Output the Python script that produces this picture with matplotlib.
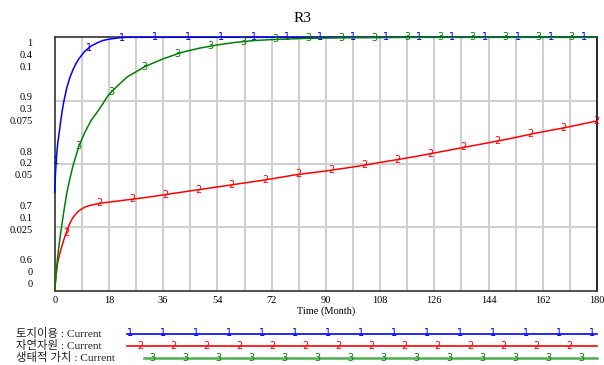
import numpy as np
import matplotlib
matplotlib.use("Agg")
import matplotlib.pyplot as plt
import matplotlib.transforms as mtransforms

plt.rcParams['font.family'] = ['Liberation Serif', 'Noto Sans CJK KR', 'DejaVu Sans']

# ---------------- data ----------------
title = "R3"
x_label = "Time (Month)"
x_ticks = [0, 18, 36, 54, 72, 90, 108, 126, 144, 162, 180]

series_names = ["토지이용", "자연자원", "생태적 가치"]
series_colors = ["#0000ff", "#ff0000", "#008000"]
legend_colors = ["#0000ff", "#ff0000", "#4caf50"]
series_ranges = [(0.6, 1.0), (0.0, 0.4), (0.0, 0.1)]

# 토지이용 (scale 0.6 - 1)
t_land = [0, 0.25, 0.5, 0.75, 1, 1.5, 2, 2.5, 3, 4, 5, 6, 7, 8, 9, 10, 12, 14, 16, 18,
          21, 24, 30, 60, 90, 120, 150, 180]
v_land = [0.755, 0.784, 0.804, 0.820, 0.832, 0.850, 0.868, 0.884, 0.898, 0.920, 0.936,
          0.948, 0.958, 0.966, 0.972, 0.978, 0.986, 0.991, 0.995, 0.997, 0.999, 1.0,
          1.0, 1.0, 1.0, 1.0, 1.0, 1.0]

# 자연자원 (scale 0 - 0.4)
t_nat = [0, 0.5, 1, 1.5, 2, 3, 4, 5, 6, 7, 8, 10, 12, 15, 20, 25, 30, 40, 50, 60, 70, 80,
         90, 100, 110, 120, 130, 140, 150, 160, 170, 180]
v_nat = [0.0, 0.026, 0.044, 0.055, 0.064, 0.080, 0.094, 0.106, 0.115, 0.121, 0.126,
         0.132, 0.135, 0.138, 0.141, 0.144, 0.147, 0.154, 0.161, 0.168, 0.175, 0.183,
         0.189, 0.196, 0.204, 0.212, 0.221, 0.230, 0.239, 0.249, 0.258, 0.268]

# 생태적 가치 (scale 0 - 0.1)
t_eco = [0, 0.5, 1, 1.5, 2, 3, 4, 5, 6, 7, 8, 10, 12, 15, 18, 21, 24, 30, 36, 42, 48, 54,
         60, 66, 72, 84, 96, 108, 120, 150, 180]
v_eco = [0.0, 0.0075, 0.0135, 0.0185, 0.023, 0.031, 0.0385, 0.044, 0.049, 0.053, 0.057,
         0.0625, 0.067, 0.072, 0.0775, 0.081, 0.0843, 0.0885, 0.0915, 0.094, 0.0957,
         0.097, 0.098, 0.0987, 0.0991, 0.0996, 0.0998, 0.0999, 0.1, 0.1, 0.1]

y_tick_labels = [["0.6", "0", "0"],
                 ["0.7", "0.1", "0.025"],
                 ["0.8", "0.2", "0.05"],
                 ["0.9", "0.3", "0.075"],
                 ["1", "0.4", "0.1"]]

legend_suffix = " : Current"

# ---------------- figure ----------------
W, H = 604, 365
fig = plt.figure(figsize=(W / 100, H / 100), dpi=100)
L, R, T, B = 54.7, 597.0, 37.3, 290.7
ax = fig.add_axes([L / W, 1 - B / H, (R - L) / W, (B - T) / H])
ax.set_xlim(0, 180)
ax.set_ylim(0, 1)

for xv in np.arange(9, 180, 9):
    ax.axvline(xv, color="#d0d0d0", lw=1.5, zorder=0)
for yv in [0.25, 0.5, 0.75]:
    ax.axhline(yv, color="#d0d0d0", lw=1.5, zorder=0)

ax.set_xticks(x_ticks)
ax.set_xticklabels([str(v) for v in x_ticks], fontsize=7.5)
ax.tick_params(axis='x', length=0, pad=4)
ax.set_yticks([])
for s in ax.spines.values():
    s.set_color("#333333")
    s.set_linewidth(1.2)
ax.spines['right'].set_color("#000000")
ax.set_xlabel(x_label, fontsize=7.5, labelpad=1)

# y tick labels (stacked multi scale); block shifted toward the inside of the axis
trans = mtransforms.blended_transform_factory(ax.transAxes, ax.transData)
for i, labs in enumerate(y_tick_labels):
    f = i / 4
    off_px = (f - 0.5) * 37
    ax.text(-22 / (R - L), f, "\n".join(labs),
            transform=trans + mtransforms.ScaledTranslation(0, -off_px / 100, fig.dpi_scale_trans),
            ha='right', va='center', fontsize=7.5, linespacing=1.42, multialignment='right')

fig.text(0.5, 1 - 18 / H, title, ha='center', va='center', fontsize=11)

datasets = [(t_land, v_land), (t_nat, v_nat), (t_eco, v_eco)]
marker_start = [0.5, 3.8, 8.0]
marker_step = [10.95, 11.0, 10.9]

for k, (tt, vv) in enumerate(datasets):
    a = ax.twinx()
    a.set_ylim(*series_ranges[k])
    a.set_yticks([])
    a.set_xlim(0, 180)
    for s in a.spines.values():
        s.set_visible(False)
    a.patch.set_visible(False)
    a.plot(tt, vv, color=series_colors[k], lw=1.1, clip_on=False)
    mt = np.arange(marker_start[k], 180.01, marker_step[k])
    mv = np.interp(mt, tt, vv)
    for x0, y0 in zip(mt, mv):
        a.text(x0, y0, str(k + 1), color=series_colors[k], fontsize=7,
               ha='center', va='center', family='DejaVu Sans', clip_on=False)

# ---------------- legend ----------------
lax = fig.add_axes([0, 0, 1, 1])
lax.set_xlim(0, W)
lax.set_ylim(H, 0)
lax.axis('off')
rows_y = [333.5, 346, 358]
line_start = [127, 127, 144]
mk_start = [130, 140, 152]
for k in range(3):
    lax.text(16, rows_y[k], series_names[k] + legend_suffix, fontsize=8.2,
             ha='left', va='center', color="#222222")
    lax.plot([line_start[k], 597], [rows_y[k], rows_y[k]], color=legend_colors[k],
             lw=1.2 if k < 2 else 1.8)
    for xm in np.arange(mk_start[k], 598, 33):
        lax.text(xm, rows_y[k], str(k + 1), color=series_colors[k], fontsize=7,
                 ha='center', va='center', family='DejaVu Sans')

fig.savefig("out.png", dpi=100)
